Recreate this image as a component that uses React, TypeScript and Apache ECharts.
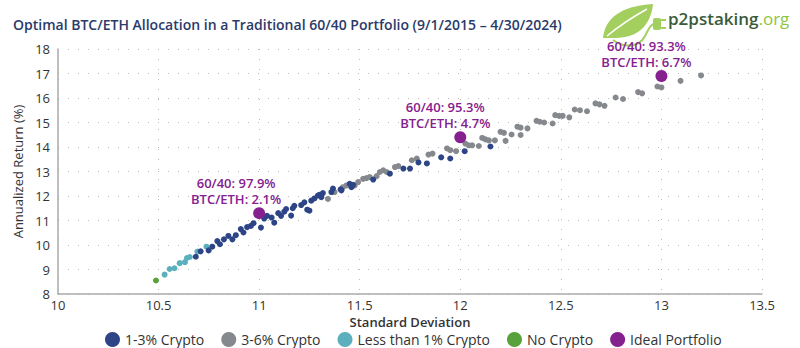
import React, { useEffect, useRef } from "react";
import * as echarts from "echarts";

const titleText = "Optimal BTC/ETH Allocation in a Traditional 60/40 Portfolio (9/1/2015 – 4/30/2024)";
const seriesNames = ["1-3% Crypto", "3-6% Crypto", "Less than 1% Crypto", "No Crypto", "Ideal Portfolio"];
const seriesColors = ["#2d4586", "#85888d", "#5cb0bd", "#58a23c", "#85208f"];

const noCrypto: number[][] = [[10.487, 8.55]];

const lessThan1: number[][] = [
  [10.53, 8.79], [10.555, 9.02], [10.579, 9.05], [10.605, 9.26], [10.631, 9.3],
  [10.641, 9.47], [10.655, 9.51], [10.693, 9.73], [10.738, 9.93],
];

const oneToThree: number[][] = [
  [10.685, 9.52], [10.709, 9.74], [10.749, 9.78], [10.767, 9.93], [10.792, 10.16],
  [10.805, 10.03], [10.825, 10.23], [10.847, 10.37], [10.867, 10.23], [10.884, 10.4],
  [10.909, 10.65], [10.922, 10.51], [10.94, 10.73], [10.959, 10.78], [10.972, 10.89],
  [11.009, 10.71], [11.025, 11.08], [11.039, 11.19], [11.062, 11.12], [11.075, 10.91],
  [11.095, 11.3], [11.109, 11.19], [11.125, 11.36], [11.134, 11.47], [11.159, 11.2],
  [11.167, 11.5], [11.175, 11.6], [11.209, 11.63], [11.225, 11.74], [11.239, 11.44],
  [11.25, 11.4], [11.259, 11.81], [11.275, 11.9], [11.292, 12.02], [11.3, 12.05],
  [11.309, 11.95], [11.317, 12.12], [11.359, 12.16], [11.367, 12.3], [11.405, 12.27],
  [11.409, 12.23], [11.45, 12.5], [11.459, 12.36], [11.467, 12.46], [11.567, 12.67],
  [11.65, 12.91], [11.717, 13.12], [11.75, 13.12], [11.792, 13.37], [11.834, 13.33],
  [11.905, 13.58], [11.95, 13.53], [12.022, 13.83], [12.15, 14.02],
];

const threeToSix: number[][] = [
  [11.342, 11.88], [11.375, 12.16], [11.417, 12.36], [11.434, 12.43], [11.475, 12.43],
  [11.492, 12.57], [11.517, 12.7], [11.534, 12.73], [11.55, 12.77], [11.584, 12.81],
  [11.6, 12.98], [11.617, 13.05], [11.634, 12.98], [11.675, 13.18], [11.692, 13.22],
  [11.759, 13.46], [11.784, 13.53], [11.842, 13.69], [11.862, 13.73], [11.934, 13.94],
  [11.95, 13.87], [11.979, 13.83], [12.025, 14.14], [12.042, 14.07], [12.059, 14.07],
  [12.092, 14.04], [12.109, 14.37], [12.125, 14.31], [12.142, 14.27], [12.172, 14.27],
  [12.2, 14.62], [12.217, 14.58], [12.225, 14.25], [12.255, 14.51], [12.284, 14.83],
  [12.3, 14.79], [12.3, 14.49], [12.334, 14.76], [12.379, 15.07], [12.395, 15.03],
  [12.417, 15.0], [12.459, 14.96], [12.472, 15.3], [12.492, 15.27], [12.509, 15.27],
  [12.542, 15.21], [12.569, 15.53], [12.595, 15.5], [12.63, 15.46], [12.672, 15.78],
  [12.692, 15.74], [12.717, 15.68], [12.772, 16.02], [12.809, 15.96], [12.884, 16.24],
  [12.904, 16.19], [12.98, 16.47], [13.0, 16.43], [13.095, 16.7], [13.197, 16.92],
];

const idealPoints: number[][] = [[11.0, 11.3], [12.0, 14.4], [13.0, 16.9]];
const idealLabels: string[][] = [
  ["60/40: 97.9%", "BTC/ETH: 2.1%"],
  ["60/40: 95.3%", "BTC/ETH: 4.7%"],
  ["60/40: 93.3%", "BTC/ETH: 6.7%"],
];

const FONT = "'Open Sans', sans-serif";

const leafPath =
  "M0 34 C2 14 18 2 50 0 C48 20 36 34 12 34 C8 34 4 34 0 34 Z";
const veinPath = "M4 32 C16 22 28 14 44 5";
const cordPath = "M10 36 C20 44 36 44 42 32 C46 24 48 20 52 20";

echarts.graphic.registerShape("leaf", echarts.graphic.extendPath(leafPath, {}) as any);
echarts.graphic.registerShape("vein", echarts.graphic.extendPath(veinPath, {}) as any);
echarts.graphic.registerShape("cord", echarts.graphic.extendPath(cordPath, {}) as any);

export default function App() {
  const ref = useRef<HTMLDivElement>(null);
  useEffect(() => {
    document.body.style.margin = "0";
    if (!ref.current) return;
    const chart = echarts.init(ref.current, null, { renderer: "svg" });
    const small = (name: string, data: number[][], color: string, z = 2) => ({
      name,
      type: "scatter",
      data,
      symbolSize: 6,
      itemStyle: { color, opacity: 1 },
      z,
    });
    chart.setOption({
      animation: false,
      textStyle: { fontFamily: FONT },
      title: {
        text: titleText,
        left: 8,
        top: 12,
        textStyle: { fontFamily: FONT, fontSize: 14, fontWeight: 600, color: "#2a3a6a" },
      },
      legend: {
        bottom: -4,
        left: 100,
        icon: "circle",
        itemWidth: 15,
        itemHeight: 15,
        itemGap: 17,
        data: seriesNames,
        textStyle: { fontFamily: FONT, fontSize: 14, color: "#333" },
      },
      grid: { left: 58, right: 38, top: 49, bottom: 54 },
      xAxis: {
        type: "value",
        min: 10,
        max: 13.5,
        interval: 0.5,
        name: "Standard Deviation",
        nameLocation: "middle",
        nameGap: 15,
        nameTextStyle: { fontFamily: FONT, fontSize: 13, fontWeight: 600, color: "#333", verticalAlign: "top" },
        axisLine: { show: true, lineStyle: { color: "#aaa", width: 1.5 } },
        axisTick: { show: false },
        axisLabel: { fontFamily: FONT, fontSize: 13, color: "#333", margin: 4 },
        splitLine: { show: true, lineStyle: { type: [1, 9], color: "#bbb", width: 1 } },
      },
      yAxis: {
        type: "value",
        min: 8,
        max: 18,
        interval: 1,
        name: "Annualized Return (%)",
        nameLocation: "middle",
        nameGap: 22,
        nameTextStyle: { fontFamily: FONT, fontSize: 13, fontWeight: 400, color: "#333" },
        axisLine: { show: true, lineStyle: { color: "#aaa", width: 1.5 } },
        axisTick: { show: false },
        axisLabel: { fontFamily: FONT, fontSize: 13, color: "#333", margin: 8 },
        splitLine: { show: true, lineStyle: { type: [1, 9], color: "#bbb", width: 1 } },
      },
      series: [
        small(seriesNames[0], oneToThree, seriesColors[0], 3),
        small(seriesNames[1], threeToSix, seriesColors[1], 2),
        small(seriesNames[2], lessThan1, seriesColors[2], 2),
        small(seriesNames[3], noCrypto, seriesColors[3], 4),
        {
          name: seriesNames[4],
          type: "scatter",
          symbolSize: 12,
          z: 5,
          itemStyle: { color: seriesColors[4], opacity: 1 },
          data: idealPoints.map((p, i) => ({
            value: p,
            label: {
              show: true,
              position: "top",
              distance: 0,
              offset: [i === 0 ? -23 : -15, 0],
              formatter: idealLabels[i].join("\n"),
              fontFamily: FONT,
              fontSize: 13,
              lineHeight: 16,
              fontWeight: 600,
              color: seriesColors[4],
              align: "center",
            },
          })),
        },
      ],
      graphic: [
        {
          type: "group",
          x: 603,
          y: 4,
          children: [
            { type: "leaf", x: 0, y: 0, style: { fill: "#a3cf5f" } },
            { type: "vein", x: 0, y: 0, style: { fill: null, stroke: "#ffffff", lineWidth: 1.5 } },
            { type: "cord", x: 0, y: 0, style: { fill: null, stroke: "#a3cf5f", lineWidth: 2 } },
            { type: "rect", shape: { x: 50, y: 14, width: 8, height: 12, r: 2 }, style: { fill: "#a3cf5f" } },
            { type: "rect", shape: { x: 58, y: 15, width: 5, height: 2 }, style: { fill: "#a3cf5f" } },
            { type: "rect", shape: { x: 58, y: 23, width: 5, height: 2 }, style: { fill: "#a3cf5f" } },
          ],
        },
        {
          type: "text",
          x: 668,
          y: 10,
          style: {
            text: "{a|p2pstaking}{b|.org}",
            rich: {
              a: { fontFamily: FONT, fontSize: 17, fontWeight: 600, fill: "#3a5a3a" },
              b: { fontFamily: FONT, fontSize: 17, fontWeight: 400, fill: "#8dc63f" },
            },
          } as any,
        },
      ],
    });
    return () => chart.dispose();
  }, []);
  return <div ref={ref} style={{ width: 800, height: 348 }} />;
}
